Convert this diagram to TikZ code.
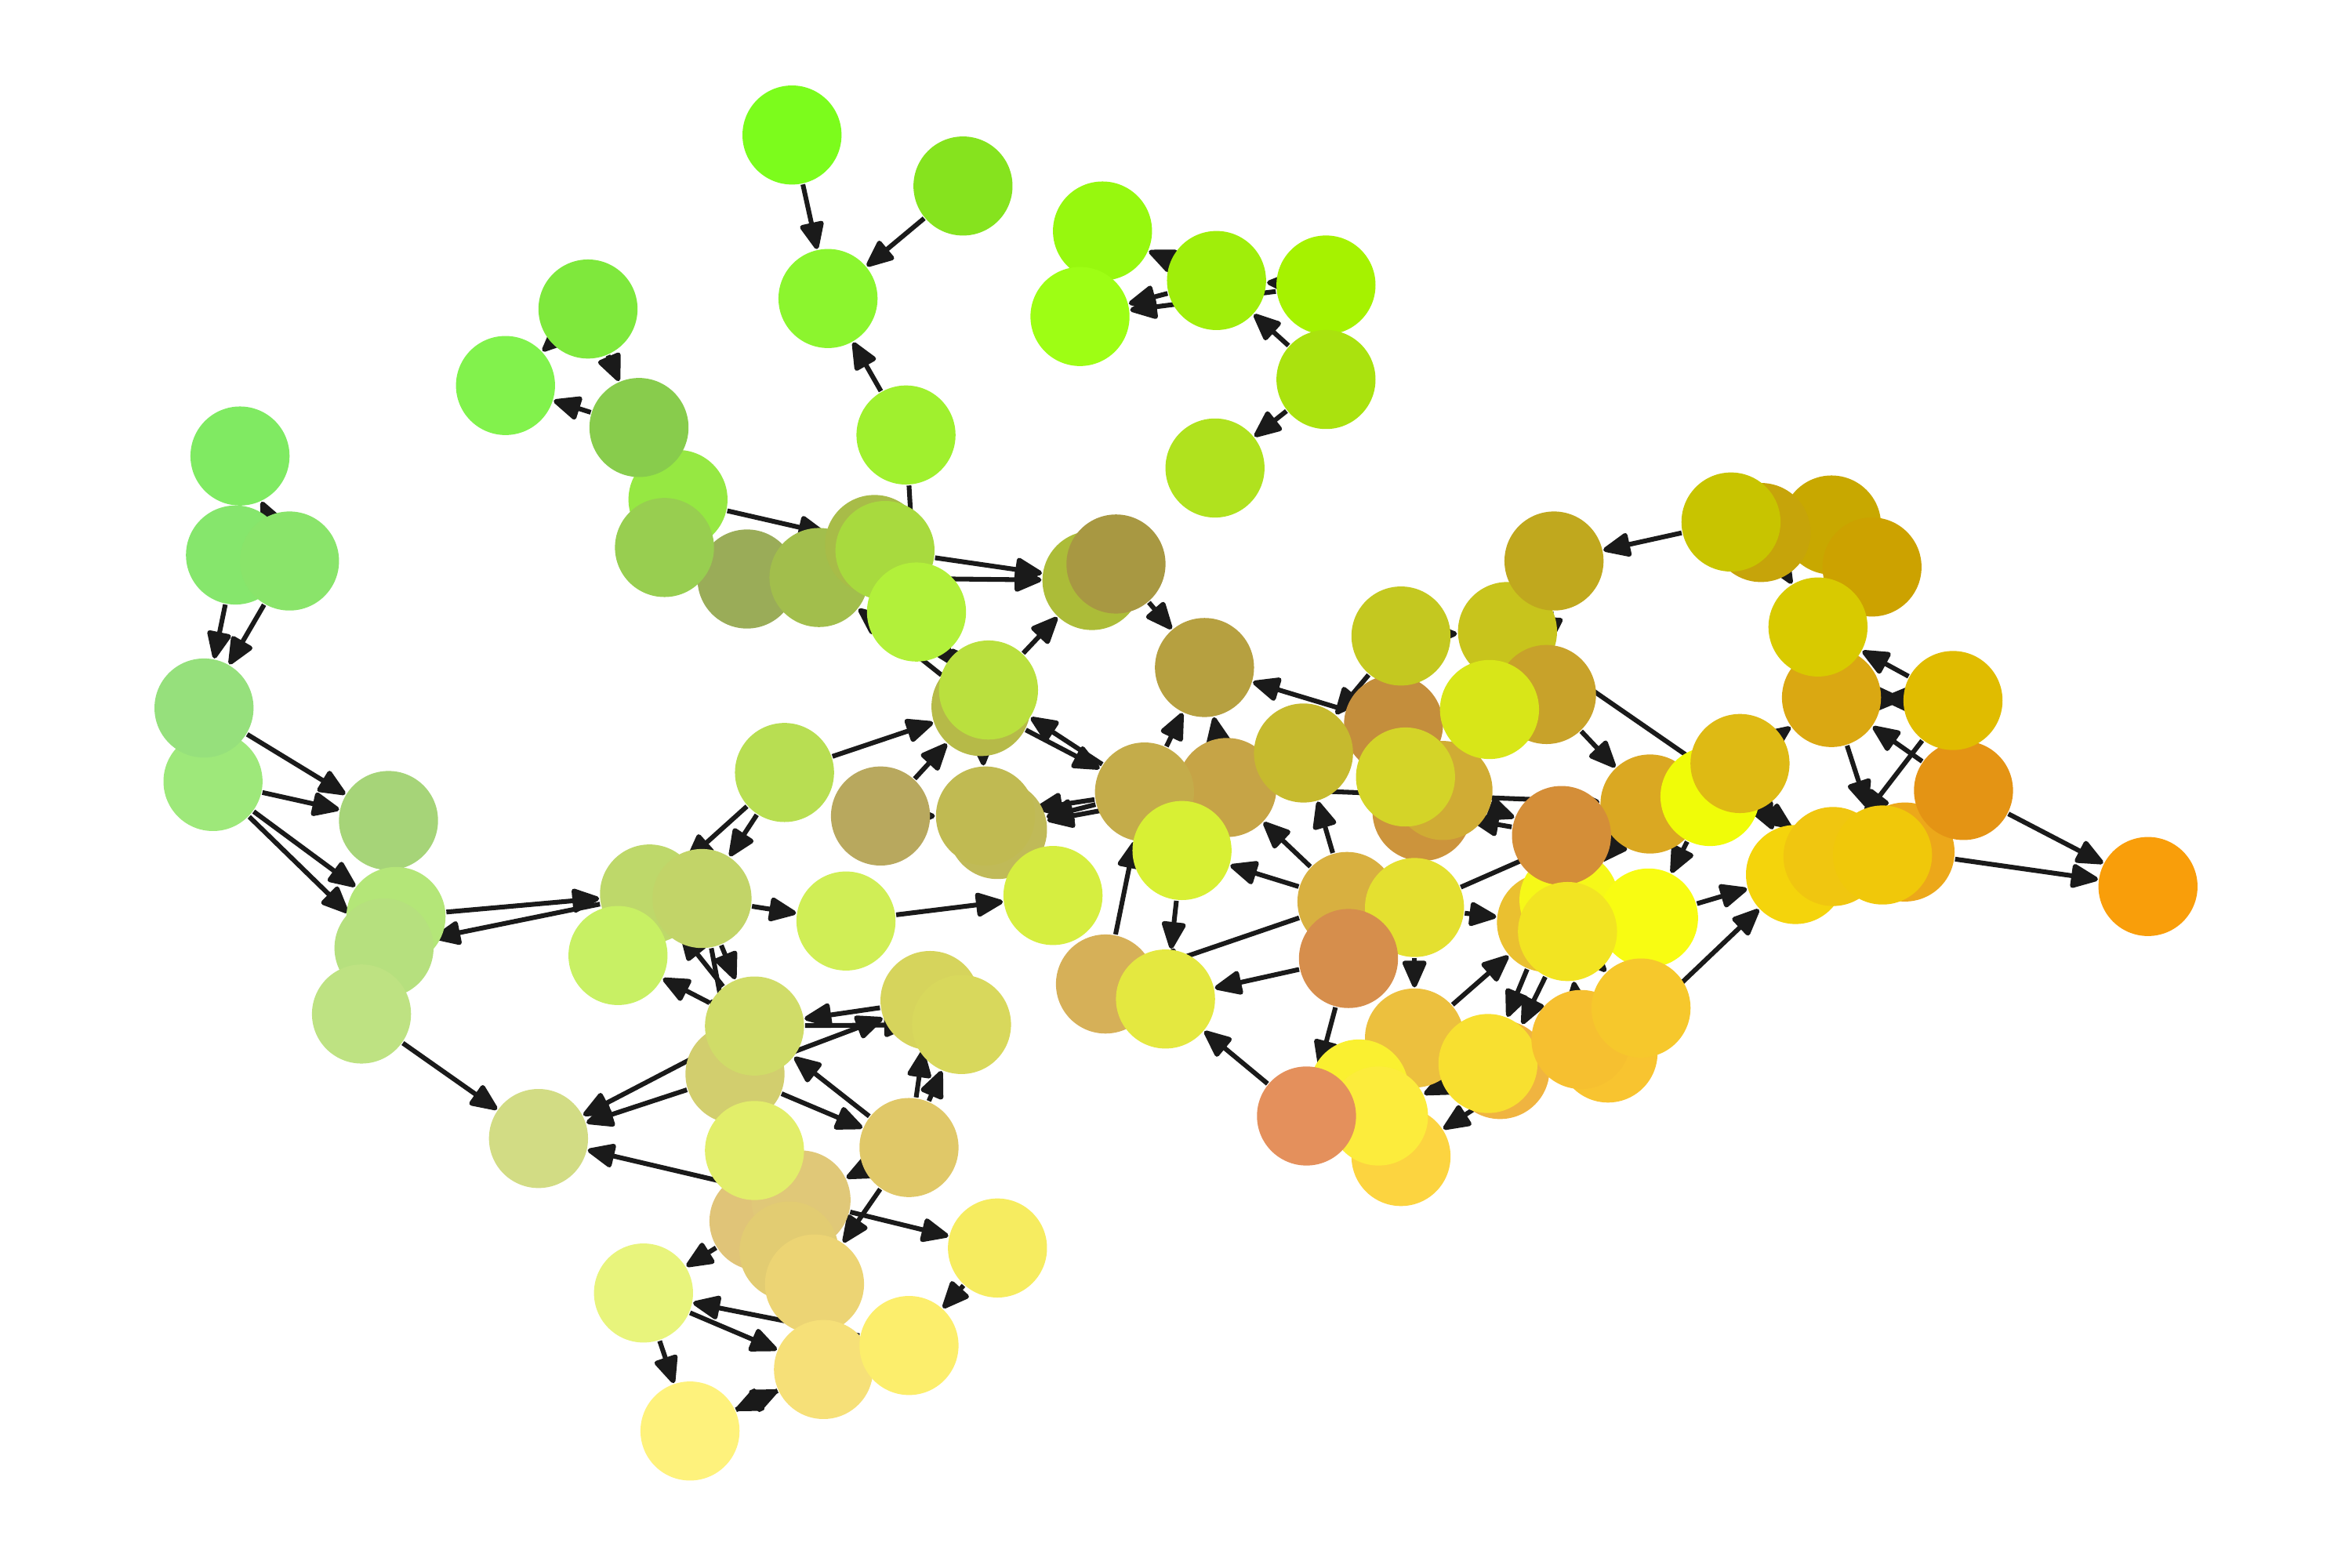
\documentclass[tikz,border=0pt]{standalone}
\usetikzlibrary{arrows.meta}
\pgfdeclarelayer{edgelayer}
\pgfsetlayers{edgelayer,main}
\definecolor{edgec}{HTML}{1A1A1A}
\tikzset{
  nd/.style={circle,draw=none,minimum size=0.66cm,inner sep=0pt},
  ed/.style={draw=edgec,line width=0.9pt,-{Triangle[length=5.8pt,width=4.8pt,round]}}
}
\newcommand\gnode[4]{\definecolor{nc#1}{HTML}{#4}\node[nd,fill=nc#1] (#1) at (#2,#3) {};}
\begin{document}
\begin{tikzpicture}[x=0.01cm,y=-0.01cm]
\useasboundingbox (0,0) rectangle (1568,1045);
\gnode{a1}{528}{90}{7CFC1C}
\gnode{a2}{642}{124}{86E31E}
\gnode{a3}{552}{199}{8CF52E}
\gnode{s1}{604}{290}{A0F02E}
\gnode{b1}{735}{154}{97F80E}
\gnode{b4}{720}{211}{9EFE14}
\gnode{b2}{811}{187}{A0EE0A}
\gnode{b3}{884}{190}{A6F200}
\gnode{b5}{884}{253}{AAE20E}
\gnode{b6}{810}{312}{B0E21E}
\gnode{c1}{392}{206}{7FE83C}
\gnode{c2}{337}{257}{82F24C}
\gnode{r1}{452}{333}{96E842}
\gnode{c3}{426}{285}{88CC4C}
\gnode{r3}{498}{386}{9AAC58}
\gnode{r2}{443}{365}{98CE50}
\gnode{r4}{546}{385}{A2BE4C}
\gnode{r5a}{583}{363}{A8BC48}
\gnode{r5b}{590}{367}{A8DA3E}
\gnode{r6}{611}{408}{B2F03A}
\gnode{t1}{728}{387}{ACBC38}
\gnode{t2}{744}{376}{A89842}
\gnode{u1}{803}{445}{B6A040}
\gnode{d1}{160}{304}{80EA62}
\gnode{d2}{157}{370}{86E66C}
\gnode{d3}{193}{374}{8AE46A}
\gnode{d5}{142}{521}{9EE87A}
\gnode{d4}{136}{472}{96E07C}
\gnode{e1}{259}{547}{A6D478}
\gnode{e2}{264}{611}{B4E678}
\gnode{e3}{256}{632}{B6E07E}
\gnode{e4}{241}{676}{BEE282}
\gnode{f4}{523}{515}{B8DE52}
\gnode{h1}{654}{471}{B6BA48}
\gnode{h2}{659}{460}{BAE03E}
\gnode{x1}{587}{544}{B8A85E}
\gnode{w2}{665}{553}{C0BA58}
\gnode{w1}{657}{544}{C0BA52}
\gnode{v2}{818}{525}{C6A446}
\gnode{v1}{763}{528}{C4AC4A}
\gnode{z1}{788}{567}{D8F034}
\gnode{y1}{702}{597}{D6EE40}
\gnode{f1}{433}{596}{BED86A}
\gnode{f2}{468}{599}{C2D468}
\gnode{f3}{412}{637}{C8F064}
\gnode{i1}{564}{614}{D0EE56}
\gnode{k2}{490}{716}{D2CE6E}
\gnode{k1}{503}{684}{D0DC68}
\gnode{l1}{620}{667}{D6D45C}
\gnode{l2}{641}{683}{D8D85C}
\gnode{m1}{606}{765}{E0C868}
\gnode{g1}{359}{759}{D2DC84}
\gnode{n3}{506}{814}{E0C478}
\gnode{n2}{534}{800}{E0C878}
\gnode{n5}{526}{834}{E2CC72}
\gnode{n4}{543}{856}{ECD474}
\gnode{n1}{503}{767}{E2EE6A}
\gnode{q1}{665}{832}{F6EC60}
\gnode{p1}{429}{862}{E8F47C}
\gnode{p2}{549}{913}{F6E078}
\gnode{p3}{606}{897}{FCEE6C}
\gnode{p4}{460}{954}{FEF27C}
\gnode{ad1}{737}{656}{D6B058}
\gnode{ae1}{777}{666}{E4E840}
\gnode{aa1}{929}{483}{C48E3C}
\gnode{ab1}{934}{424}{C4C820}
\gnode{ac1}{869}{502}{C6BA2E}
\gnode{cb1}{948}{541}{CC943C}
\gnode{cc1}{962}{527}{D0AC34}
\gnode{ca1}{937}{518}{D4D428}
\gnode{au1}{1005}{421}{C8C41C}
\gnode{aw1}{1031}{463}{C8A22A}
\gnode{av1}{993}{473}{D8E618}
\gnode{ax1}{1036}{374}{C0A81E}
\gnode{bd1}{1221}{465}{DAA812}
\gnode{ba1}{1221}{350}{C8A800}
\gnode{bb1}{1248}{378}{CCA200}
\gnode{az1}{1174}{355}{C6A40A}
\gnode{ay1}{1154}{348}{C8C400}
\gnode{bc1}{1212}{418}{D8CA00}
\gnode{bn1}{1270}{568}{ECA81A}
\gnode{bf1}{1309}{527}{E49414}
\gnode{be1}{1302}{467}{E0BC00}
\gnode{bg1}{1432}{591}{F99E0A}
\gnode{bi1}{1100}{536}{DAA822}
\gnode{bj1}{1140}{531}{F0FC08}
\gnode{bh1}{1160}{509}{DEBA14}
\gnode{al1}{1031}{615}{EAC030}
\gnode{an1}{1046}{600}{F6F818}
\gnode{ak1}{1041}{557}{D48E38}
\gnode{bp1}{1099}{612}{F8FC12}
\gnode{bo1}{1045}{621}{F2E422}
\gnode{bk1}{1197}{583}{F4D40C}
\gnode{bl1}{1222}{571}{F0C610}
\gnode{bm1}{1255}{570}{F0C80A}
\gnode{af1}{898}{601}{D8B040}
\gnode{aj1}{943}{605}{E4E030}
\gnode{ag1}{899}{639}{D68E4C}
\gnode{am1}{943}{692}{ECC03E}
\gnode{ap1}{1000}{713}{F0B440}
\gnode{ao1}{992}{709}{F8E030}
\gnode{br1}{1072}{702}{F8C430}
\gnode{at1}{1054}{693}{F6C030}
\gnode{bq1}{1094}{672}{F6C82C}
\gnode{aq1}{934}{771}{FCD440}
\gnode{ai1}{906}{726}{FAF030}
\gnode{ar1}{919}{744}{FCEC3C}
\gnode{ah1}{871}{744}{E4905C}
\begin{pgfonlayer}{edgelayer}
\foreach \s/\t in {a1/a3, a2/a3, s1/a3, b2/b1, b2/b4, b3/b4, b3/b2, b5/b2, b5/b6,
  c1/c2, c3/c2, c1/c3, d3/d1, d2/d4, d3/d4, d4/e1, d5/e1, d5/e2, d5/e3,
  e2/f1, f1/e3, e4/g1, r1/r5a, r5b/t1, r4/t1, s1/r6, t2/u1, h2/t1, h1/r4, h2/r6, r6/h1,
  f4/h1, f4/f1, f4/f2, x1/h1, x1/w1, h1/v1, v1/h2, v1/u1, v2/u1, aa1/u1, ab1/ac1, ab1/au1,
  h1/w1, v1/w1, v1/w2, v2/w2, f2/i1, i1/y1, f2/k1, f2/k2, k1/f1, k1/f3,
  l1/k1, k1/l2, k2/l1, m1/k1, m1/l1, m1/l2, k2/m1, k1/g1, k2/g1, n2/g1,
  m1/n4, m1/n2, n3/p1, n2/q1, p1/p4, p1/p2, p3/p1, p2/p4, p4/p2, q1/p3,
  ad1/v1, z1/ae1, af1/z1, af1/v2, af1/ac1, af1/ad1, ag1/ae1, ah1/ae1, ag1/ah1,
  aj1/al1, aj1/am1, aj1/bi1, am1/al1, al1/ao1, bo1/ap1, ao1/ar1, at1/aq1, at1/bo1, bo1/bq1,
  ay1/ax1, ax1/aw1, az1/bc1, be1/bc1, be1/bd1, bd1/be1, bf1/bd1, bd1/bm1, bn1/bf1, be1/bl1,
  bf1/bg1, bn1/bg1, aw1/bi1, au1/bl1, bh1/bd1, bh1/bk1, bi1/an1, bj1/bp1, bp1/bk1, br1/bk1,
  v2/bi1, ak1/cb1, cc1/ak1}
  \draw[ed] (\s) -- (\t);
\end{pgfonlayer}
\end{tikzpicture}
\end{document}
